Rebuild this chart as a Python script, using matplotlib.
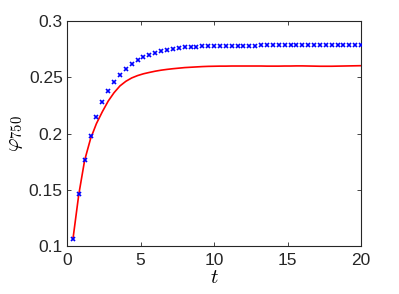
import numpy as np
import matplotlib
matplotlib.use("Agg")
import matplotlib.pyplot as plt

plt.rcParams['mathtext.fontset'] = 'cm'
plt.rcParams['font.family'] = ['Liberation Sans', 'DejaVu Sans']

t = [0.4 * (i + 1) for i in range(50)]

blue_vals = [0.106, 0.1464, 0.1765, 0.198, 0.215, 0.228, 0.2384, 0.2464, 0.2524, 0.2578,
             0.2619, 0.2652, 0.2681, 0.2703, 0.2720, 0.2735, 0.2746, 0.2755, 0.2762, 0.2767,
             0.2771, 0.2774, 0.2777, 0.2779, 0.2780, 0.2781, 0.2782, 0.2783, 0.2783, 0.2784,
             0.2784, 0.2784, 0.2785, 0.2785, 0.2785, 0.2785, 0.2785, 0.2785, 0.2785, 0.2785,
             0.2785, 0.2785, 0.2785, 0.2785, 0.2785, 0.2785, 0.2785, 0.2785, 0.2785, 0.2785]

red_vals = [0.106, 0.146, 0.1765, 0.1955, 0.2090, 0.2195, 0.2290, 0.2365, 0.2425, 0.2466,
            0.2496, 0.2517, 0.2533, 0.2545, 0.2556, 0.2565, 0.2572, 0.2578, 0.2583, 0.2588,
            0.2591, 0.2594, 0.2597, 0.2599, 0.2600, 0.2601, 0.2601, 0.2602, 0.2602, 0.2602,
            0.2602, 0.2602, 0.2602, 0.2601, 0.2601, 0.2601, 0.2602, 0.2602, 0.2603, 0.2603,
            0.2602, 0.2601, 0.2600, 0.2600, 0.2600, 0.2601, 0.2602, 0.2603, 0.2604, 0.2605]

xticks = [0, 5, 10, 15, 20]
yticks = [0.1, 0.15, 0.2, 0.25, 0.3]
yticklabels = ['0.1', '0.15', '0.2', '0.25', '0.3']

fig = plt.figure(figsize=(3.99, 2.94), dpi=100)
ax = fig.add_axes([0.168, 0.163, 0.737, 0.7646])

ax.plot(t, red_vals, color='red', lw=1.2, zorder=2)
ax.plot(t, blue_vals, linestyle='none', marker='x', color='blue', ms=3.4, mew=1.2, zorder=3)

ax.set_xlim(0, 20)
ax.set_ylim(0.1, 0.3)
ax.set_xticks(xticks)
ax.set_xticklabels([str(v) for v in xticks])
ax.set_yticks(yticks)
ax.set_yticklabels(yticklabels)

axc = '#262626'
for s in ax.spines.values():
    s.set_color(axc)
    s.set_linewidth(0.8)
ax.tick_params(direction='in', length=3, width=0.6, colors=axc, labelsize=12.5,
               top=True, right=True, pad=3)
ax.tick_params(axis='x', pad=5)

ax.set_xlabel('$t$', fontsize=15, labelpad=0)
ax.set_ylabel(r'$\varphi_{750}$', fontsize=15, labelpad=3)

fig.savefig('out.png', dpi=100)
